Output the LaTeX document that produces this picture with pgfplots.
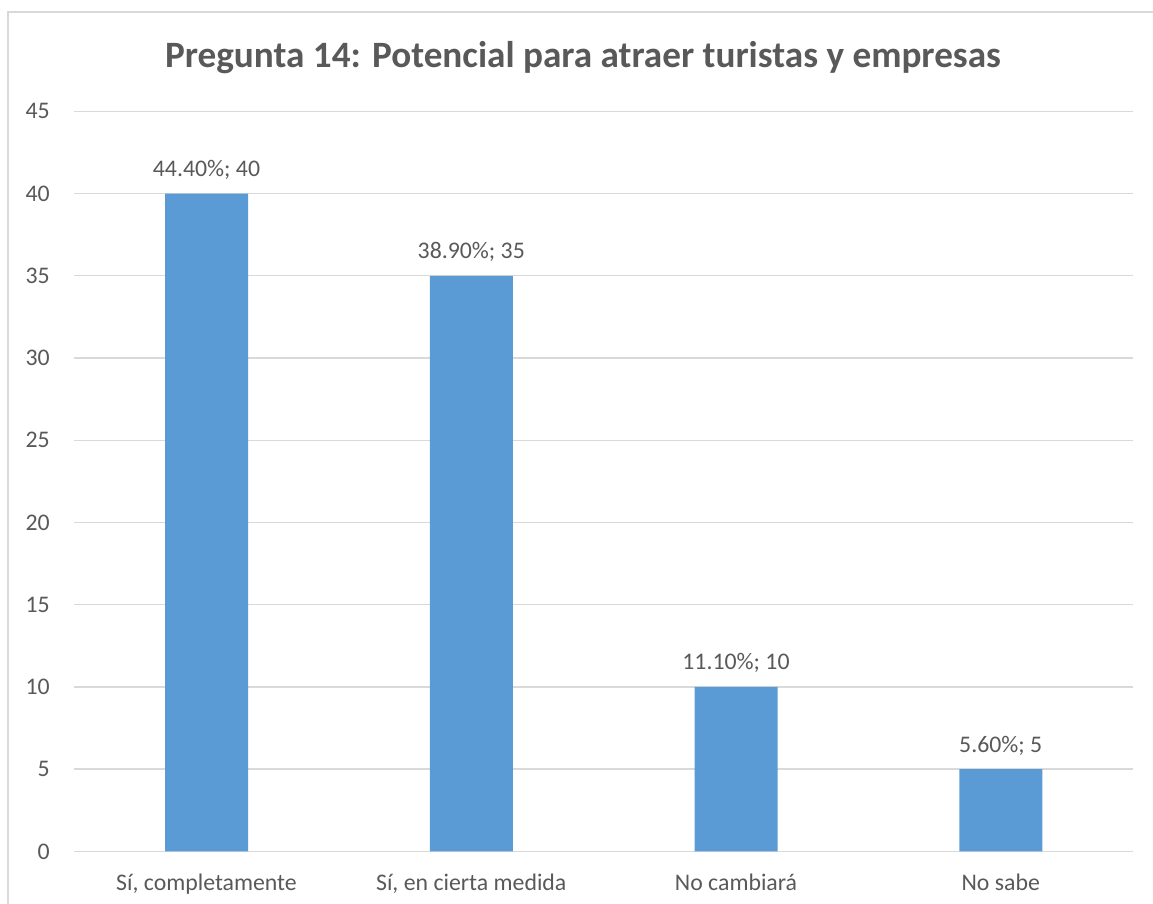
\documentclass[border=0pt]{standalone}
\usepackage{pgfplots}
\pgfplotsset{compat=1.18}
\usepackage{fontspec}
\setmainfont{Carlito}
\definecolor{txt}{HTML}{595959}
\definecolor{grd}{HTML}{D9D9D9}
\definecolor{bar}{HTML}{5B9BD5}
\newcommand{\semi}{;}
\begin{document}
\begin{tikzpicture}[x=1pt,y=1pt]
\useasboundingbox (0,0) rectangle (576.5,452);
\draw[grd, line width=0.7pt] (4,-10) -- (4,446) -- (600,446);
\node[anchor=base, inner sep=0pt, text=txt, font=\fontsize{18.6}{22}\selectfont\bfseries] at (291.5,418) {Pregunta 14: Potencial para atraer turistas y empresas};
\begin{axis}[
  at={(28,32)}, anchor=south west,
  scale only axis, width=529.5pt, height=370pt,
  xmin=-0.5, xmax=3.5, ymin=0, ymax=45,
  ytick distance=5,
  xtick={0,1,2,3},
  xticklabels={{Sí, completamente},{Sí, en cierta medida},{No cambiará},{No sabe}},
  axis line style={draw=none},
  major tick length=0pt,
  ymajorgrids, major grid style={grd, line width=0.65pt},
  /pgf/number format/assume math mode=true,
  tick label style={text=txt, font=\fontsize{11.9}{14}\selectfont, inner sep=0pt},
  yticklabel style={anchor=east, xshift=-12pt},
  xticklabel style={anchor=base, yshift=-19.5pt},
  ybar, bar width=41.5pt,
  nodes near coords,
  nodes near coords style={anchor=base, yshift=8.5pt, inner sep=0pt, text=txt, font=\fontsize{11.9}{14}\selectfont},
  clip=false,
]
\addplot[fill=bar, draw=none, point meta=explicit symbolic] table[x=x, y=y, meta=lab] {
x y lab
0 40 {44.40\%\semi{} 40}
1 35 {38.90\%\semi{} 35}
2 10 {11.10\%\semi{} 10}
3 5 {5.60\%\semi{} 5}
};
\end{axis}
\end{tikzpicture}
\end{document}
